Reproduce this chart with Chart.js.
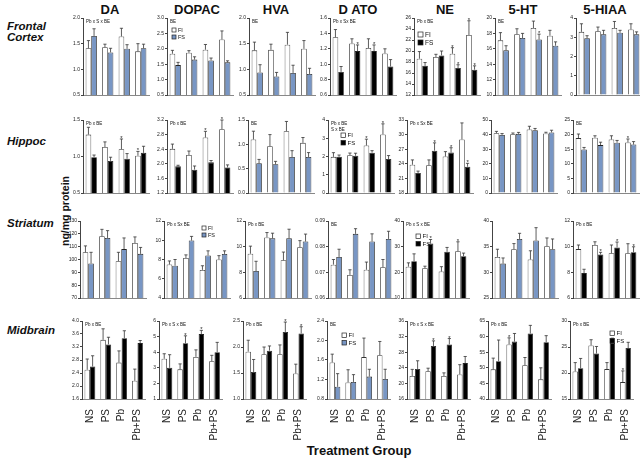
<!DOCTYPE html>
<html>
<head>
<meta charset="utf-8">
<script src="https://cdn.jsdelivr.net/npm/chart.js@4.4.0/dist/chart.umd.min.js"></script>
<style>
  body { margin: 0; background: #fff; width: 640px; height: 463px; position: relative; overflow: hidden;
         font-family: "Liberation Sans", Arial, sans-serif; color: #111; }
  .panel { position: absolute; }
  .txt { position: absolute; white-space: nowrap; }
  .coltitle { font-weight: bold; font-size: 13px; line-height: 13px; top: 3px; transform: translateX(-50%); }
  .rowlab { font-weight: bold; font-style: italic; font-size: 11.5px; line-height: 11px; left: 7px; }
</style>
</head>
<body>
<script>
// groups and analytes
const groups = ['NS', 'PS', 'Pb', 'Pb+PS'];
const analytes = ['DA', 'DOPAC', 'HVA', 'D ATO', 'NE', '5-HT', '5-HIAA'];
const regionNames = ['Frontal\nCortex', 'Hippoc', 'Striatum', 'Midbrain'];

// --- Frontal cortex (one inner array per analyte, values per group) ---
const fcFI = [[1.41,1.43,1.64,1.35],[1.84,1.87,1.97,2.30],[1.37,1.38,1.48,1.40],[1.35,1.27,1.21,1.14],[18.6,18.9,19.5,22.9],[17.1,17.9,18.7,17.7],[3.28,3.31,3.48,3.40]];
const fcFIerr = [[0.15,0.06,0.16,0.15],[0.11,0.07,0.17,0.28],[0.16,0.11,0.24,0.16],[0.10,0.06,0.12,0.06],[1.3,0.5,1.1,2.6],[1.0,0.7,0.9,0.7],[0.42,0.22,0.34,0.30]];
const fcFS = [[1.65,1.33,1.40,1.41],[1.47,1.65,1.62,1.56],[0.94,0.86,0.93,0.91],[0.90,1.17,1.17,0.97],[17.3,19.2,16.9,16.6],[15.8,17.4,17.2,16.4],[2.95,3.15,3.23,3.15]];
const fcFSerr = [[0.14,0.08,0.08,0.08],[0.09,0.09,0.08,0.05],[0.15,0.08,0.15,0.11],[0.07,0.08,0.08,0.09],[0.6,0.8,0.6,0.7],[0.6,0.6,0.7,0.5],[0.13,0.21,0.13,0.13]];
const fcStarFI = [[],[],[],[],[2,3],[],[]];
const fcStarFS = [[],[],[],[1,2],[2,3],[2],[]];
const fcTicks = [['0.5','1.0','1.5','2.0'],['0.5','1.0','1.5','2.0','2.5','3.0'],['0.5','1.0','1.5','2.0'],['0.6','0.8','1.0','1.2','1.4','1.6'],['12','14','16','18','20','22','24','26'],['10','12','14','16','18','20'],['0','1','2','3','4']];
const fcNotes = ['Pb x S x BE','BE','BE','Pb x Sx BE','Pb x BE','BE',''];

// --- Hippocampus ---
const hipFI = [[1.30,1.13,1.10,1.01],[2.41,2.24,2.72,2.95],[1.10,0.96,1.27,1.03],[1.98,2.07,2.60,3.21],[23.8,23.7,25.5,29.0],[41.0,40.3,43.5,40.8],[18.8,18.9,18.3,17.3]];
const hipFIerr = [[0.10,0.07,0.14,0.06],[0.13,0.11,0.17,0.25],[0.17,0.24,0.20,0.11],[0.23,0.12,0.35,0.58],[1.0,1.1,1.0,3.4],[1.2,0.8,2.2,0.8],[1.4,0.7,1.3,1.2]];
const hipFS = [[0.99,0.94,0.97,1.05],[1.93,1.84,2.04,1.90],[0.61,0.59,0.74,0.74],[1.98,2.04,2.21,1.86],[22.1,26.7,26.3,23.4],[39.8,40.5,43.0,41.5],[14.9,16.4,17.2,16.6]];
const hipFSerr = [[0.03,0.05,0.07,0.09],[0.03,0.10,0.05,0.07],[0.08,0.06,0.13,0.09],[0.10,0.14,0.11,0.19],[0.4,1.6,1.0,0.7],[0.9,1.0,1.2,1.5],[0.7,1.0,0.8,1.0]];
const hipStarFI = [[2,3],[2,3],[],[2,3],[],[],[3]];
const hipStarFS = [[],[],[],[],[1,2,3],[],[]];
const hipTicks = [['0.5','1.0','1.5'],['1.2','1.6','2.0','2.4','2.8','3.2'],['0.0','0.5','1.0','1.5'],['0','1','2','3','4'],['18','21','24','27','30','33'],['0','10','20','30','40','50'],['0','5','10','15','20','25']];
const hipNotes = ['Pb x BE','Pb x BE','BE','Pb x BE\nS x BE','Pb x Sx BE','','BE'];

// --- Striatum ---
const strFI = [[105.6,118.1,98.7,112.8],[7.48,8.15,6.92,8.0],[9.45,10.72,8.94,9.96],[0.073,0.069,0.071,0.072],[22.2,21.6,20.3,28.2],[33.0,34.5,32.5,35.1],[9.81,10.13,9.49,9.49]];
const strFIerr = [[5.0,5.4,6.9,4.8],[0.37,0.33,0.43,0.4],[0.59,0.38,0.64,0.51],[0.002,0.002,0.003,0.003],[1.5,0.8,1.9,3.7],[1.5,1.1,1.7,1.6],[0.32,0.25,0.64,0.74]];
const strFS = [[96.9,116.8,108.1,104.4],[7.35,9.97,8.42,8.58],[8.1,10.65,10.65,10.4],[0.076,0.085,0.082,0.083],[24.3,31.2,28.0,26.3],[31.7,36.5,36.2,34.5],[7.94,9.39,9.94,9.56]];
const strFSerr = [[8.7,5.7,8.7,5.0],[0.65,0.43,0.48,0.32],[0.76,0.4,0.71,0.58],[0.003,0.002,0.003,0.003],[2.9,1.6,1.7,1.2],[1.1,1.1,2.5,2.0],[0.3,0.17,0.42,0.43]];
const strStarFI = [[],[],[],[],[3],[],[]];
const strStarFS = [[],[],[],[],[1],[],[1,2,3]];
const strTicks = [['70','80','90','100','110','120','130'],['4','6','8','10','12'],['6','8','10','12'],['0.06','0.07','0.08','0.09'],['10','20','30','40'],['25','30','35','40'],['6','8','10','12']];
const strNotes = ['','Pb x Sx BE','Pb x BE','BE','Pb x S x BE','','Pb x BE'];

// --- Midbrain ---
const midFI = [[2.50,3.42,2.72,2.16],[3.58,2.90,3.70,3.42],[1.91,1.86,1.86,1.49],[1.55,1.14,1.66,1.70],[21.9,23.1,21.9,22.3],[49.5,57.5,50.8,46.3],[20.3,25.3,20.75,18.25]];
const midFIerr = [[0.33,0.34,0.36,0.36],[0.32,0.35,0.45,0.38],[0.22,0.14,0.18,0.18],[0.17,0.26,0.39,0.28],[1.7,0.8,0.8,2.5],[3.6,2.1,2.5,3.7],[1.7,1.1,1.25,2.15]];
const midFS = [[2.60,3.28,3.47,3.32],[3.00,4.57,5.16,4.00],[1.52,1.93,2.29,2.26],[1.05,1.15,1.26,1.21],[23.7,29.6,30.0,25.2],[52.1,58.4,61.0,58.2],[20.9,23.75,25.8,24.8]];
const midFSerr = [[0.33,0.22,0.23,0.08],[0.84,0.48,0.24,0.63],[0.24,0.09,0.19,0.13],[0.27,0.15,0.15,0.2],[2.1,1.3,1.5,1.7],[6.8,2.6,2.6,2.1],[1.9,1.35,0.9,1.1]];
const midStarFI = [[],[],[],[],[],[1],[3]];
const midStarFS = [[],[1,2],[2,3],[],[1,2],[],[]];
const midTicks = [['1.6','2.0','2.4','2.8','3.2','3.6','4.0'],['1','2','3','4','5','6'],['1.0','1.5','2.0','2.5'],['0.8','1.2','1.6','2.0','2.4'],['16','20','24','28','32','36'],['40','45','50','55','60','65'],['15','20','25','30']];
const midNotes = ['Pb x BE','Pb x S x BE','Pb x BE','BE','Pb x S x BE','Pb x BE','Pb x BE'];

// styling / layout (kept apart from the data)
const FONT = '"Liberation Sans", Arial, sans-serif';
const BLUE = '#7896c4';
const fsBlack = [[0,0,0,1,1,0,0],[1,1,0,1,1,0,0],[0,0,0,0,1,0,1],[1,1,1,0,1,1,1]];
const colX = [[83,167,249,330,414,495,576],[83,167,248,328,407,491,573],[80,164,245,328,403,492,573],[82,159,243,327,407,488,570]];
const rowY = [[18,98],[120,196],[221,301],[321,399]];
const titleX = [110,197,276,358,445,523,605];
const rowLabelY = [21,136,218,325];
const legendSpots = [
  {r:0,c:1,dx:5,dy:10,s:4}, {r:0,c:4,dx:4,dy:14,s:5}, {r:1,c:3,dx:13,dy:13,s:4.5},
  {r:2,c:1,dx:38,dy:5,s:4}, {r:2,c:4,dx:13,dy:13,s:4.5}, {r:3,c:3,dx:15,dy:12,s:4.5}, {r:3,c:6,dx:40,dy:10,s:4.5}
];
const YW = 22, PT = 6, PR = 4, PW = 66;

const rows = [
  {FI: fcFI, FIerr: fcFIerr, FS: fcFS, FSerr: fcFSerr, sFI: fcStarFI, sFS: fcStarFS, ticks: fcTicks, notes: fcNotes},
  {FI: hipFI, FIerr: hipFIerr, FS: hipFS, FSerr: hipFSerr, sFI: hipStarFI, sFS: hipStarFS, ticks: hipTicks, notes: hipNotes},
  {FI: strFI, FIerr: strFIerr, FS: strFS, FSerr: strFSerr, sFI: strStarFI, sFS: strStarFS, ticks: strTicks, notes: strNotes},
  {FI: midFI, FIerr: midFIerr, FS: midFS, FSerr: midFSerr, sFI: midStarFI, sFS: midStarFS, ticks: midTicks, notes: midNotes}
];

function addText(text, cls, css) {
  const d = document.createElement('div');
  d.className = 'txt ' + cls;
  d.innerHTML = text.replace(/\n/g, '<br>');
  Object.assign(d.style, css);
  document.body.appendChild(d);
}

// error bars, asterisks, notes and small legends
function deco(r, c, fsColor) {
  return {
    id: 'deco',
    afterDatasetsDraw(chart) {
      const ctx = chart.ctx, ys = chart.scales.y, a = chart.chartArea;
      ctx.save();
      chart.data.datasets.forEach((ds, i) => {
        chart.getDatasetMeta(i).data.forEach((bar, j) => {
          const yt = ys.getPixelForValue(ds.data[j] + ds.errs[j]);
          ctx.strokeStyle = '#333';
          ctx.lineWidth = 0.8;
          ctx.beginPath();
          ctx.moveTo(bar.x, bar.y);
          ctx.lineTo(bar.x, yt);
          ctx.moveTo(bar.x - 1.6, yt);
          ctx.lineTo(bar.x + 1.6, yt);
          ctx.stroke();
          if (ds.stars.includes(j)) {
            ctx.fillStyle = '#222';
            ctx.font = '6px ' + FONT;
            ctx.textAlign = 'center';
            ctx.textBaseline = 'alphabetic';
            ctx.fillText('*', bar.x, yt + 1);
          }
        });
      });
      const note = rows[r].notes[c];
      if (note) {
        ctx.fillStyle = '#111';
        ctx.font = '4.5px ' + FONT;
        ctx.textAlign = 'left';
        ctx.textBaseline = 'top';
        note.split('\n').forEach((ln, k) => ctx.fillText(ln, a.left + 3, a.top + 2 + k * 5.5));
      }
      legendSpots.filter(L => L.r === r && L.c === c).forEach(L => {
        const x = a.left + L.dx, y0 = a.top + L.dy;
        [['FI', '#fff'], ['FS', fsColor]].forEach(([name, fill], k) => {
          const y = y0 + k * (L.s + 3);
          ctx.fillStyle = fill;
          ctx.fillRect(x, y, L.s, L.s);
          ctx.strokeStyle = '#222';
          ctx.lineWidth = 0.7;
          ctx.strokeRect(x, y, L.s, L.s);
          ctx.fillStyle = '#111';
          ctx.font = (L.s + 1.5) + 'px ' + FONT;
          ctx.textAlign = 'left';
          ctx.textBaseline = 'middle';
          ctx.fillText(name, x + L.s + 2, y + L.s / 2 + 0.5);
        });
      });
      ctx.restore();
    }
  };
}

function makePanel(r, c) {
  const R = rows[r];
  const last = r === 3;
  const XH = last ? 46 : 1;
  const [top, bot] = rowY[r];
  const PH = bot - top;
  const box = document.createElement('div');
  box.className = 'panel';
  box.style.left = (colX[r][c] - YW) + 'px';
  box.style.top = (top - PT) + 'px';
  box.style.width = (YW + PW + PR) + 'px';
  box.style.height = (PT + PH + XH) + 'px';
  const cv = document.createElement('canvas');
  box.appendChild(cv);
  document.body.appendChild(box);

  const tl = R.ticks[c];
  const tv = tl.map(Number);
  const fsColor = fsBlack[r][c] ? '#000' : BLUE;

  new Chart(cv, {
    type: 'bar',
    data: {
      labels: groups,
      datasets: [
        { label: 'FI', data: R.FI[c], errs: R.FIerr[c], stars: R.sFI[c],
          backgroundColor: '#fff', borderColor: '#333', borderWidth: 0.8 },
        { label: 'FS', data: R.FS[c], errs: R.FSerr[c], stars: R.sFS[c],
          backgroundColor: fsColor, borderColor: '#222', borderWidth: 0.8 }
      ]
    },
    options: {
      responsive: true,
      maintainAspectRatio: false,
      animation: false,
      layout: { padding: { top: PT, right: PR, left: 0, bottom: 0 } },
      plugins: { legend: { display: false }, tooltip: { enabled: false } },
      datasets: { bar: { barPercentage: 1, categoryPercentage: 0.68 } },
      scales: {
        x: {
          offset: true,
          grid: { display: false },
          border: { display: true, color: '#888', width: 1 },
          ticks: { display: last, maxRotation: 90, minRotation: 90, padding: 2, color: '#222',
                   font: { family: FONT, size: 10 } },
          afterFit: s => { s.height = XH; }
        },
        y: {
          min: tv[0],
          max: tv[tv.length - 1],
          grid: { display: true, drawOnChartArea: false, tickLength: 2, color: '#444' },
          border: { display: true, color: '#444', width: 1 },
          afterBuildTicks: s => { s.ticks = tv.map(v => ({ value: v })); },
          ticks: { padding: 1, color: '#222', font: { family: FONT, size: 5 },
                   callback: (v, i) => tl[i] },
          afterFit: s => { s.width = YW; }
        }
      }
    },
    plugins: [deco(r, c, fsColor)]
  });
}

analytes.forEach((name, c) => addText(name, 'coltitle', { left: titleX[c] + 'px' }));
regionNames.forEach((name, r) => addText(name, 'rowlab', { top: rowLabelY[r] + 'px' }));
addText('ng/mg protein', '', { left: '65px', top: '211px', fontWeight: 'bold', fontSize: '10.5px',
        transform: 'translate(-50%,-50%) rotate(-90deg)' });
addText('Treatment Group', '', { left: '359px', top: '450px', fontWeight: 'bold', fontSize: '13px',
        transform: 'translate(-50%,-50%)' });

for (let r = 0; r < 4; r++) {
  for (let c = 0; c < 7; c++) makePanel(r, c);
}
</script>
</body>
</html>
